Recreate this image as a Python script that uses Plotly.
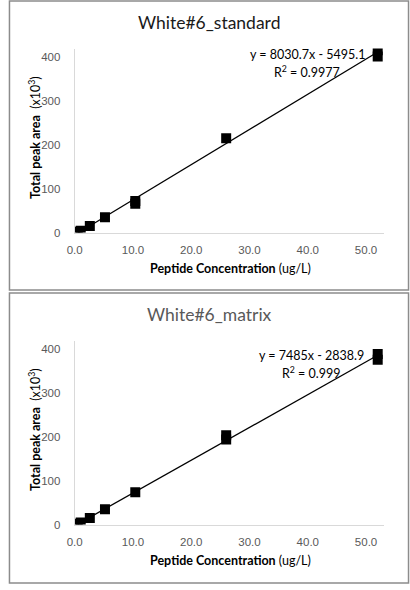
import plotly.graph_objects as go

# ---- data ----
conc_std = [0.52, 1.04, 2.6, 5.2, 10.4, 10.4, 26.0, 52.0, 52.0]
area_std = [2, 4, 15, 35, 66, 72, 215, 402, 416]
slope_std, intercept_std = 8.0307, -5.4951   # x10^3 units
eq_std = ["y = 8030.7x - 5495.1", "R<sup>2</sup> = 0.9977"]

conc_mat = [0.52, 1.04, 2.6, 5.2, 10.4, 26.0, 26.0, 52.0, 52.0]
area_mat = [2, 5, 15, 35, 74, 194, 204, 376, 389]
slope_mat, intercept_mat = 7.485, -2.8389
eq_mat = ["y = 7485x - 2838.9", "R<sup>2</sup> = 0.999"]

titles = ["White#6_standard", "White#6_matrix"]
x_ticks = [0, 10, 20, 30, 40, 50]
y_ticks = [0, 100, 200, 300, 400]

W, H = 410, 590
FONT = "Lato"
TICKFONT = "Liberation Sans"

fig = go.Figure()

def py(p):
    return 1 - p / H

def px(p):
    return p / W

panels = [
    dict(x=conc_std, y=area_std, m=slope_std, b=intercept_std, eq=eq_std,
         title=titles[0], tcolor="#1a1a1a", y0=235, y1=49, top=1, bot=293,
         xa="x", ya="y", eqx=305, eqy=55),
    dict(x=conc_mat, y=area_mat, m=slope_mat, b=intercept_mat, eq=eq_mat,
         title=titles[1], tcolor="#595959", y0=530, y1=344, top=296, bot=589,
         xa="x2", ya="y2", eqx=310, eqy=359),
]

annotations = []
shapes = []
for i, p in enumerate(panels):
    xs = [min(p["x"]), max(p["x"])]
    ys = [p["m"] * v + p["b"] for v in xs]
    fig.add_trace(go.Scatter(x=xs, y=ys, mode="lines",
                             line=dict(color="black", width=1.3),
                             xaxis=p["xa"], yaxis=p["ya"], showlegend=False))
    fig.add_trace(go.Scatter(x=p["x"], y=p["y"], mode="markers",
                             marker=dict(symbol="square", size=10, color="black"),
                             xaxis=p["xa"], yaxis=p["ya"], showlegend=False))
    # panel border
    shapes.append(dict(type="rect", xref="paper", yref="paper",
                       x0=px(1.5), x1=px(408.5), y0=py(p["bot"]), y1=py(p["top"]),
                       line=dict(color="#8c8c8c", width=1.5)))
    # title
    annotations.append(dict(text=p["title"], xref="paper", yref="paper",
                            x=px(205), y=py(p["top"] + 22), showarrow=False,
                            xanchor="center", yanchor="middle",
                            font=dict(family=FONT, size=17.5, color=p["tcolor"])))
    # equation (two lines)
    annotations.append(dict(text=p["eq"][0], xref="paper", yref="paper",
                            x=px(p["eqx"]), y=py(p["eqy"]), showarrow=False,
                            xanchor="center", yanchor="middle",
                            font=dict(family=FONT, size=12.5, color="black")))
    annotations.append(dict(text=p["eq"][1], xref="paper", yref="paper",
                            x=px(p["eqx"]), y=py(p["eqy"] + 17), showarrow=False,
                            xanchor="center", yanchor="middle",
                            font=dict(family=FONT, size=12.5, color="black")))
    # y axis title
    annotations.append(dict(text="<b>Total peak area</b>  (x10<sup>3</sup>)",
                            xref="paper", yref="paper",
                            x=px(27), y=py((p["y0"] + p["y1"]) / 2 - 3),
                            showarrow=False, textangle=-90,
                            xanchor="center", yanchor="middle",
                            font=dict(family=FONT, size=12.5, color="black")))
    # x axis title
    annotations.append(dict(text="<b>Peptide Concentration</b> (ug/L)",
                            xref="paper", yref="paper",
                            x=px(226.5), y=py(p["y0"] + 36),
                            showarrow=False, xanchor="center", yanchor="middle",
                            font=dict(family=FONT, size=12.5, color="black")))

axis_common = dict(showgrid=False, zeroline=False, showline=True,
                   linecolor="#d9d9d9", linewidth=1, ticks="",
                   tickfont=dict(family=TICKFONT, size=11.5, color="#595959"))

fig.update_layout(
    width=W, height=H,
    margin=dict(l=0, r=0, t=0, b=0),
    paper_bgcolor="white", plot_bgcolor="white",
    xaxis=dict(domain=[px(68), px(383)], range=[0, 53], anchor="y",
               tickvals=x_ticks, tickformat=".1f", ticklabelstandoff=7, **axis_common),
    yaxis=dict(domain=[py(panels[0]["y0"]), py(panels[0]["y1"])], range=[0, 420],
               anchor="x", tickvals=y_ticks, ticklabelstandoff=11, **axis_common),
    xaxis2=dict(domain=[px(68), px(383)], range=[0, 53], anchor="y2",
                tickvals=x_ticks, tickformat=".1f", ticklabelstandoff=7, **axis_common),
    yaxis2=dict(domain=[py(panels[1]["y0"]), py(panels[1]["y1"])], range=[0, 420],
                anchor="x2", tickvals=y_ticks, ticklabelstandoff=11, **axis_common),
    annotations=annotations,
    shapes=shapes,
)

fig.write_html("out.html", config={"displayModeBar": False},
               post_script="document.body.style.margin='0';document.body.style.overflow='hidden';")
